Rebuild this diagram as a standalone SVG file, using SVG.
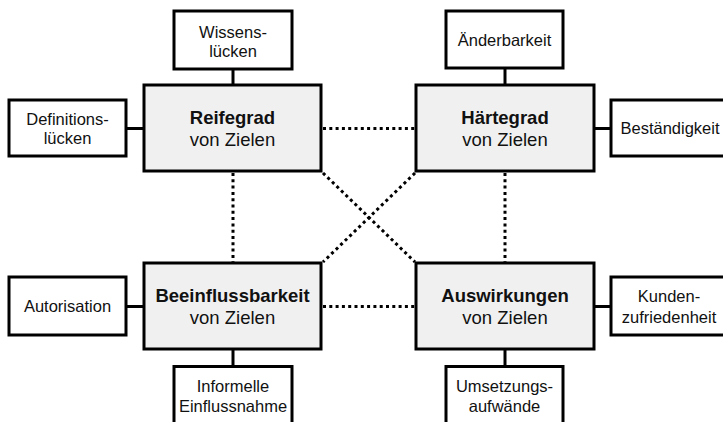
<svg xmlns="http://www.w3.org/2000/svg" width="723" height="422" viewBox="0 0 723 422">
  <style>
    .main { fill: #f0f0f0; stroke: #000; stroke-width: 3; }
    .leaf { fill: #fff; stroke: #000; stroke-width: 3; }
    .link { stroke: #000; stroke-width: 3; fill: none; }
    .dots { stroke: #000; stroke-width: 3; fill: none; stroke-dasharray: 3 3.3; }
    text { font-family: "Liberation Sans", Arial, sans-serif; fill: #111; text-anchor: middle; }
    .t-main { font-size: 18.5px; }
    .t-bold { font-weight: bold; }
    .t-leaf { font-size: 16.5px; }
  </style>
  <rect width="723" height="422" fill="#fff"/>

  <g id="connectors">
    <!-- solid links between the core boxes and their aspects -->
    <line class="link" x1="233" y1="69" x2="233" y2="84"/>
    <line class="link" x1="126" y1="128.5" x2="143" y2="128.5"/>
    <line class="link" x1="505" y1="68" x2="505" y2="84"/>
    <line class="link" x1="595" y1="128.5" x2="611" y2="128.5"/>
    <line class="link" x1="126" y1="306.5" x2="143" y2="306.5"/>
    <line class="link" x1="595" y1="306.5" x2="611" y2="306.5"/>
    <line class="link" x1="233" y1="350" x2="233" y2="366"/>
    <line class="link" x1="505" y1="350" x2="505" y2="366"/>
    <!-- dotted relations between the four core boxes -->
    <line class="dots" x1="323" y1="128.5" x2="415" y2="128.5"/>
    <line class="dots" x1="323" y1="306.5" x2="415" y2="306.5"/>
    <line class="dots" x1="233" y1="173" x2="233" y2="262"/>
    <line class="dots" x1="505" y1="173" x2="505" y2="262"/>
    <line class="dots" x1="323" y1="173" x2="415" y2="262"/>
    <line class="dots" x1="415" y1="173" x2="323" y2="262"/>
  </g>

  <g id="reifegrad">
    <rect class="main" x="144" y="85" width="177" height="86"/>
    <text class="t-main t-bold" x="232.5" y="124">Reifegrad</text>
    <text class="t-main" x="232.5" y="146">von Zielen</text>
  </g>
  <g id="haertegrad">
    <rect class="main" x="416" y="85" width="178" height="86"/>
    <text class="t-main t-bold" x="505" y="124">Härtegrad</text>
    <text class="t-main" x="505" y="146">von Zielen</text>
  </g>
  <g id="beeinflussbarkeit">
    <rect class="main" x="144" y="263" width="177" height="86"/>
    <text class="t-main t-bold" x="232.5" y="302">Beeinflussbarkeit</text>
    <text class="t-main" x="232.5" y="324">von Zielen</text>
  </g>
  <g id="auswirkungen">
    <rect class="main" x="416" y="263" width="178" height="86"/>
    <text class="t-main t-bold" x="505" y="302">Auswirkungen</text>
    <text class="t-main" x="505" y="324">von Zielen</text>
  </g>

  <g id="wissensluecken">
    <rect class="leaf" x="174" y="11" width="118" height="58"/>
    <text class="t-leaf" x="233" y="38">Wissens-</text>
    <text class="t-leaf" x="233" y="57">lücken</text>
  </g>
  <g id="definitionsluecken">
    <rect class="leaf" x="9" y="100" width="117" height="56"/>
    <text class="t-leaf" x="67.5" y="125">Definitions-</text>
    <text class="t-leaf" x="67.5" y="144">lücken</text>
  </g>
  <g id="aenderbarkeit">
    <rect class="leaf" x="446" y="11" width="117" height="57"/>
    <text class="t-leaf" x="504.5" y="46">Änderbarkeit</text>
  </g>
  <g id="bestaendigkeit">
    <rect class="leaf" x="611" y="100" width="118" height="56"/>
    <text class="t-leaf" x="670" y="134">Beständigkeit</text>
  </g>
  <g id="autorisation">
    <rect class="leaf" x="9" y="277" width="117" height="58"/>
    <text class="t-leaf" x="67.5" y="312">Autorisation</text>
  </g>
  <g id="kundenzufriedenheit">
    <rect class="leaf" x="611" y="277" width="118" height="58"/>
    <text class="t-leaf" x="669" y="302">Kunden-</text>
    <text class="t-leaf" x="669" y="323">zufriedenheit</text>
  </g>
  <g id="informelle-einflussnahme">
    <rect class="leaf" x="174" y="366.5" width="118" height="60"/>
    <text class="t-leaf" x="233" y="392">Informelle</text>
    <text class="t-leaf" x="233" y="412">Einflussnahme</text>
  </g>
  <g id="umsetzungsaufwaende">
    <rect class="leaf" x="446" y="366.5" width="117" height="60"/>
    <text class="t-leaf" x="504.5" y="392">Umsetzungs-</text>
    <text class="t-leaf" x="504.5" y="412">aufwände</text>
  </g>
</svg>
